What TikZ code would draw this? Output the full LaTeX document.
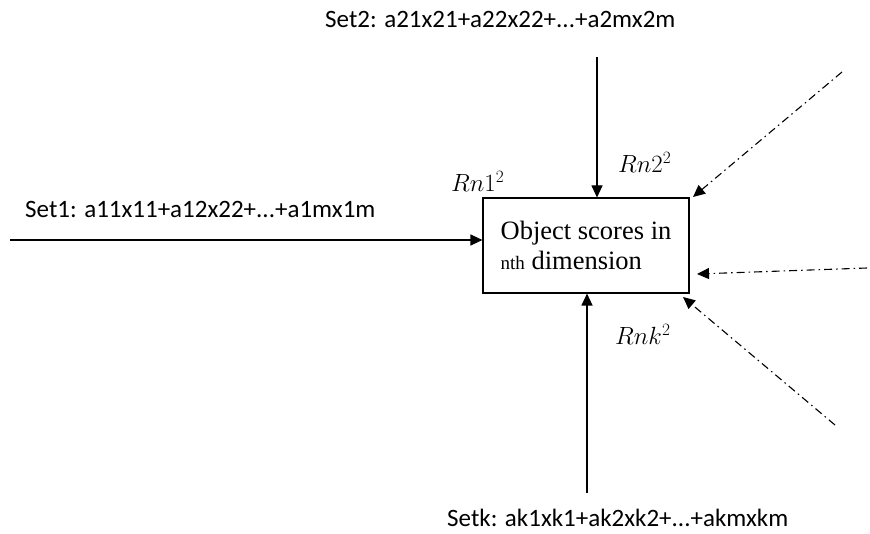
\documentclass[tikz,border=0pt]{standalone}
\usepackage{fontspec}
\setmainfont{Liberation Serif}
\newfontfamily\calib{Carlito}
\usetikzlibrary{arrows.meta}
\begin{document}
\begin{tikzpicture}[x=1pt,y=-1pt,
  arr/.style={-{Triangle[length=12pt,width=11pt]}, line width=1.1pt},
  dd/.style={arr, dash pattern=on 8pt off 4pt on 1.5pt off 4pt},
  lbl/.style={font=\calib\fontsize{25}{28}\selectfont, inner sep=0pt, anchor=base west},
  rlab/.style={font=\fontsize{26}{28}\selectfont, inner sep=0pt, anchor=base west}]
\useasboundingbox (0,0) rectangle (870,534);
\node[draw, line width=1.1pt, minimum width=206pt, minimum height=95pt, inner sep=0pt,
  align=left, font=\fontsize{26.5}{30}\selectfont] (box) at (586,245.5)
  {Object scores in\\{\fontsize{19}{20}\selectfont nth} dimension};
\node[lbl] (s1) at (25,218) {Set1: a11x11+a12x22+...+a1mx1m};
\node[lbl] (s2) at (325,28) {Set2: a21x21+a22x22+...+a2mx2m};
\node[lbl] (sk) at (447,526) {Setk: ak1xk1+ak2xk2+...+akmxkm};
\coordinate (p1) at (10,240);
\coordinate (p2) at (597,57);
\coordinate (pk) at (587,493);
\coordinate (q1) at (842,72);
\coordinate (q2) at (867,268);
\coordinate (q3) at (835,425);
\draw[arr] (p1) -- (box.west |- p1);
\draw[arr] (p2) -- (p2 |- box.north);
\draw[arr] (pk) -- (pk |- box.south);
\draw[dd] (q1) -- (693,197);
\draw[dd] (q2) -- (697,274);
\draw[dd] (q3) -- (683,297);
\node[rlab] (r1) at (451,192) {$Rn1^2$};
\node[rlab] (r2) at (618,173) {$Rn2^2$};
\node[rlab] (rk) at (615,345) {$Rnk^2$};
\end{tikzpicture}
\end{document}
